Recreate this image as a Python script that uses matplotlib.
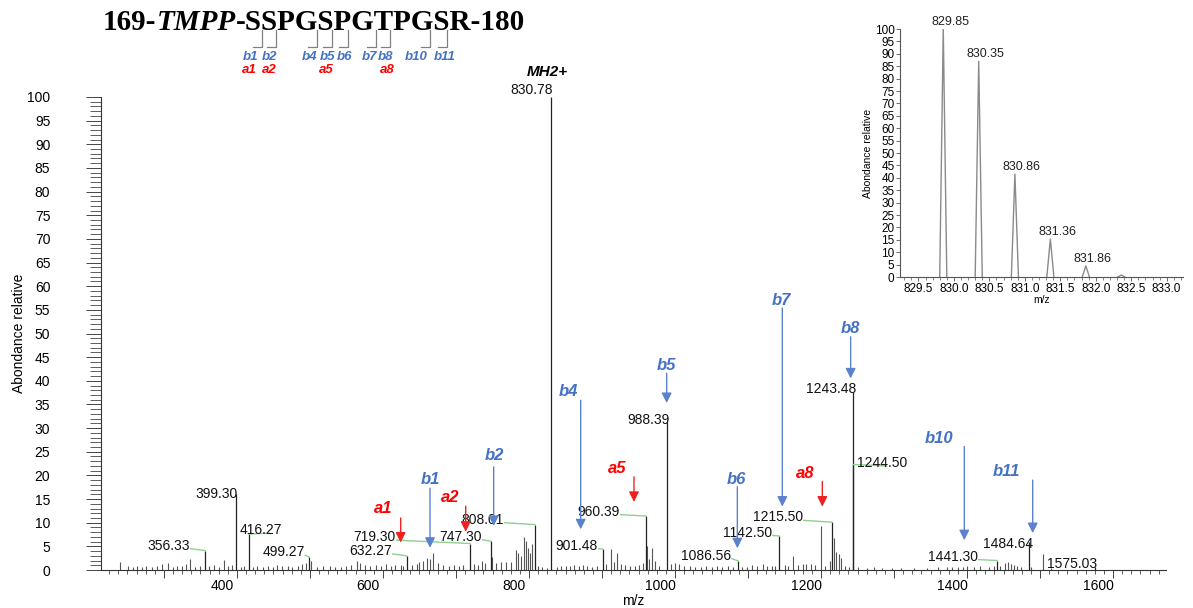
import matplotlib
matplotlib.use("Agg")
import matplotlib.pyplot as plt
import matplotlib.transforms as mtransforms
from matplotlib.ticker import MultipleLocator, FuncFormatter

plt.rcParams['font.family'] = ['Liberation Sans', 'DejaVu Sans']

# labelled peaks (m/z, relative abundance)
peak_labels = ["356.33", "399.30", "416.27", "499.27", "632.27", "719.30", "747.30",
               "808.01", "830.78", "901.48", "960.39", "988.39", "1086.56", "1142.50",
               "1215.50", "1243.48", "1244.50", "1441.30", "1484.64", "1575.03"]
peak_mz = [356.33, 399.30, 416.27, 499.27, 632.27, 719.30, 747.30,
           808.01, 830.78, 901.48, 960.39, 988.39, 1086.56, 1142.50,
           1215.50, 1243.48, 1244.50, 1441.30, 1484.64, 1575.03]
peak_int = [4.1, 16.0, 7.6, 2.7, 3.0, 5.6, 6.1,
            9.6, 100.0, 4.4, 11.4, 31.2, 1.9, 7.2,
            10.1, 37.6, 22.3, 2.0, 6.0, 0.6]

# small unlabelled peaks
noise_mz = [240, 251, 258, 263, 270, 276, 283, 290, 297, 306, 312, 318, 325, 330, 336,
            343, 350, 362, 368, 375, 382, 388, 393, 405, 410, 422, 428, 436, 442, 449,
            455, 462, 470, 476, 483, 489, 495, 502, 510, 518, 527, 534, 542, 549, 556,
            564, 569, 575, 582, 590, 597, 604, 611, 617, 624, 628, 640, 646, 650, 655,
            660, 664, 669, 675, 682, 690, 697, 704, 710, 724, 730, 735, 740, 749, 755,
            762, 768, 775, 782, 785, 789, 793, 796, 799, 801, 804.5, 812, 818, 824, 838,
            844, 850, 856, 862, 868, 874, 880, 886, 893, 905, 912, 916, 920, 926, 932,
            938, 945, 951, 956, 961, 965, 969, 973, 978, 994, 1000, 1006, 1012, 1020, 1028,
            1035, 1043, 1050, 1058, 1065, 1072, 1080, 1092, 1098, 1105, 1112, 1120, 1126, 1133, 1137,
            1150, 1155, 1161, 1168, 1175, 1180, 1186, 1192, 1200, 1205, 1212, 1218, 1221, 1225, 1228,
            1233, 1238, 1250, 1263, 1272, 1283, 1297, 1310, 1328, 1345, 1360, 1372, 1380, 1388, 1394,
            1400, 1410, 1418, 1430, 1437, 1445, 1452, 1456, 1460, 1464, 1468, 1474, 1488, 1504, 1515]
noise_int = [1.6, 0.9, 0.7, 0.9, 0.6, 0.9, 0.7, 0.8, 1.3, 1.4, 0.7, 0.9, 0.8, 1.2, 2.3,
             0.6, 0.8, 0.9, 1.1, 0.7, 2.1, 0.8, 1.0, 0.6, 0.9, 0.7, 0.8, 0.6, 0.9, 0.7,
             1.0, 0.8, 0.9, 0.7, 0.9, 1.2, 1.5, 1.8, 0.7, 0.8, 0.9, 0.6, 0.7, 0.9, 1.1,
             1.8, 1.4, 1.1, 0.8, 1.0, 0.9, 1.2, 0.9, 1.1, 1.0, 0.9, 1.0, 1.3, 1.6, 1.9,
             2.5, 2.3, 3.5, 1.4, 1.0, 0.9, 1.1, 0.8, 1.0, 1.3, 1.0, 1.9, 1.4, 2.7, 1.4,
             1.7, 1.6, 1.7, 4.2, 3.6, 2.9, 7.0, 6.1, 4.7, 3.6, 5.4, 0.8, 0.6, 0.5, 0.6,
             0.8, 0.9, 0.8, 1.1, 0.9, 1.0, 0.9, 0.7, 0.8, 1.2, 4.4, 1.7, 3.5, 1.3, 1.0,
             0.8, 0.9, 1.0, 1.5, 5.1, 2.3, 4.7, 2.0, 0.8, 1.3, 1.5, 1.2, 0.8, 0.9, 0.6,
             0.7, 0.8, 0.7, 0.9, 0.6, 0.8, 0.7, 0.6, 0.7, 1.0, 0.9, 1.2, 0.8, 0.9, 0.8,
             1.1, 0.9, 3.0, 1.0, 1.2, 1.2, 1.3, 1.0, 9.3, 0.8, 2.0, 6.8, 3.7, 3.3, 2.5,
             0.8, 0.6, 0.6, 0.5, 0.6, 0.4, 0.4, 0.4, 0.5, 0.5, 0.6, 0.7, 0.6, 0.6, 0.7,
             0.9, 0.7, 0.8, 0.7, 0.9, 0.8, 1.4, 1.6, 1.3, 1.1, 0.9, 0.7, 0.6, 3.4, 0.5]

# fragment ions pointed by arrows
b_names = ["b1", "b2", "b4", "b5", "b6", "b7", "b8", "b10", "b11"]
b_mz = [664.4, 751.6, 870.8, 988.6, 1085.4, 1147.0, 1240.6, 1396.3, 1490.0]
a_names = ["a1", "a2", "a5", "a8"]
a_mz = [624.2, 713.3, 943.8, 1201.8]

# isotopic cluster of MH2+ (inset)
iso_labels = ["829.85", "830.35", "830.86", "831.36", "831.86", ""]
iso_mz = [829.85, 830.35, 830.86, 831.36, 831.86, 832.36]
iso_int = [100.0, 87.0, 41.5, 15.3, 4.5, 0.8]

# layout of peak labels: (x, y, ha, leader)
label_pos = {
    "356.33": (335.6, 5.1, "right", True),
    "399.30": (401.0, 16.1, "right", False),
    "416.27": (404.0, 8.5, "left", True),
    "499.27": (493.0, 3.7, "right", True),
    "632.27": (612.3, 4.0, "right", True),
    "719.30": (617.8, 6.9, "right", True),
    "747.30": (735.6, 7.0, "right", True),
    "808.01": (765.8, 10.6, "right", True),
    "830.78": (833.0, 101.5, "right", False),
    "901.48": (894.5, 5.1, "right", True),
    "960.39": (924.7, 12.3, "right", True),
    "988.39": (993.0, 31.7, "right", False),
    "1086.56": (1077.0, 3.0, "right", True),
    "1142.50": (1133.0, 7.9, "right", True),
    "1215.50": (1175.0, 11.1, "right", True),
    "1243.48": (1248.0, 38.3, "right", False),
    "1244.50": (1249.3, 22.7, "left", True),
    "1441.30": (1415.0, 2.8, "right", True),
    "1484.64": (1490.4, 5.6, "right", False),
    "1575.03": (1509.6, 1.3, "left", False),
}
# arrows: (top, tip, label_x, label_y)
b_layout = [(17.3, 4.7, 664.4, 19.2), (21.8, 9.3, 752.5, 24.3), (35.9, 8.6, 853.8, 37.7),
            (41.6, 35.3, 988.6, 43.3), (17.6, 4.6, 1084.5, 19.2), (55.4, 13.4, 1146.0, 56.9),
            (49.3, 40.5, 1240.6, 51.0), (26.1, 6.3, 1362.0, 27.8), (19.0, 7.8, 1454.0, 20.8)]
a_layout = [(11.0, 5.8, 600.4, 12.9), (13.5, 8.1, 691.8, 15.3), (19.7, 14.4, 921.0, 21.5),
            (18.7, 13.4, 1179.0, 20.4)]

W, H = 1193, 608
fig = plt.figure(figsize=(W / 100, H / 100), dpi=100)


def px(x, y):
    return x / W, 1 - y / H


blue = "#4472C4"
red = "#FF0000"
green = "#8fd08f"

ax = fig.add_axes([101 / W, (H - 570) / H, 1065 / W, 473 / H])
ax.vlines(noise_mz, 0, noise_int, color="#555555", lw=0.8)
ax.vlines(peak_mz, 0, peak_int, color="#222222", lw=0.9)

for lab, m, h in zip(peak_labels, peak_mz, peak_int):
    x, y, ha, leader = label_pos[lab]
    ax.text(x, y, lab, ha=ha, va="center", fontsize=10, color="#111111", clip_on=False)
    if leader:
        if ha == "right":
            ax.plot([x + 1, m], [y - 0.6, h], color=green, lw=1)
        else:
            ax.plot([m, x + 40], [h, y - 0.7], color=green, lw=1)

ax.text(825, 105.3, "MH2+", ha="center", va="center", fontsize=11,
        fontweight="bold", fontstyle="italic", clip_on=False)

arrow_kw = dict(arrowstyle="-|>,head_length=0.5,head_width=0.25", lw=1,
                shrinkA=0, shrinkB=0, mutation_scale=12)
for name, m, (top, tip, lx, ly) in zip(b_names, b_mz, b_layout):
    ax.annotate("", xy=(m, tip), xytext=(m, top),
                arrowprops=dict(color="#5b82cc", **arrow_kw))
    ax.text(lx, ly, name, ha="center", va="center", color=blue, fontsize=12,
            fontweight="bold", fontstyle="italic")
for name, m, (top, tip, lx, ly) in zip(a_names, a_mz, a_layout):
    ax.annotate("", xy=(m, tip), xytext=(m, top),
                arrowprops=dict(color="#f02020", **arrow_kw))
    ax.text(lx, ly, name, ha="center", va="center", color=red, fontsize=12,
            fontweight="bold", fontstyle="italic")

ax.set_xlim(213.7, 1672.6)
ax.set_ylim(0, 100)
for s in ["top", "right"]:
    ax.spines[s].set_visible(False)
ax.spines["left"].set_color("#333333")
ax.spines["bottom"].set_color("#333333")
ax.spines["left"].set_bounds(0, 100)
ax.yaxis.set_major_locator(MultipleLocator(5))
ax.yaxis.set_minor_locator(MultipleLocator(1))
ax.xaxis.set_major_locator(MultipleLocator(100))
ax.xaxis.set_minor_locator(MultipleLocator(12.5))
ax.xaxis.set_major_formatter(FuncFormatter(lambda v, p: f"{v:.0f}" if v % 200 == 0 else ""))
ax.tick_params(axis="y", which="major", length=10.5, width=0.7, color="#444444",
               labelsize=10, pad=26)
ax.tick_params(axis="y", which="minor", length=7.7, width=0.6, color="#444444")
ax.tick_params(axis="x", which="major", length=5.5, width=0.7, color="#444444",
               labelsize=10, pad=1)
ax.tick_params(axis="x", which="minor", length=3, width=0.6, color="#444444")
ax.set_xlabel("m/z", fontsize=10, labelpad=1)
ax.set_ylabel("Abondance relative", fontsize=10, labelpad=4)
ax.yaxis.set_label_coords(-0.07, 0.5)
ax.set_xticks(range(300, 1700, 100))
offset = mtransforms.ScaledTranslation(-0.15, 0, fig.dpi_scale_trans)
for t in ax.get_xticklabels():
    t.set_transform(t.get_transform() + offset)

# inset: isotopic cluster
ax2 = fig.add_axes([900 / W, (H - 277) / H, 283 / W, 248 / H])
for lab, m, h in zip(iso_labels, iso_mz, iso_int):
    ax2.plot([m - 0.05, m, m + 0.05], [0, h, 0], color="#8a8a8a", lw=1)
    if lab:
        ax2.text(m + 0.1, h + 0.5, lab, ha="center", va="bottom", fontsize=9,
                 color="#222222", clip_on=False)
ax2.set_xlim(829.24, 833.23)
ax2.set_ylim(0, 100)
for s in ["top", "right"]:
    ax2.spines[s].set_visible(False)
ax2.spines["left"].set_color("#555555")
ax2.spines["bottom"].set_color("#555555")
ax2.yaxis.set_major_locator(MultipleLocator(5))
ax2.xaxis.set_major_locator(MultipleLocator(0.5))
ax2.xaxis.set_minor_locator(MultipleLocator(0.1))
ax2.xaxis.set_major_formatter(FuncFormatter(lambda v, p: f"{v:.1f}"))
ax2.tick_params(axis="both", which="major", length=3, width=0.6, color="#555555",
                labelsize=8.5, pad=1)
ax2.tick_params(axis="x", which="minor", length=2, width=0.5, color="#555555")
ax2.set_xlabel("m/z", fontsize=7.5, labelpad=0.5)
ax2.set_ylabel("Abondance relative", fontsize=7.5, labelpad=1)
ax2.patch.set_alpha(0)

# peptide sequence title
renderer = fig.canvas.get_renderer()
x0, y0 = px(103, 30)
pieces = [("169-", "normal"), ("TMPP", "italic"), ("-SSPGSPGTPGSR-180", "normal")]
for txt, style in pieces:
    t = fig.text(x0, y0, txt, fontfamily="Liberation Serif", fontweight="bold",
                 fontstyle=style, fontsize=21, va="baseline", ha="left")
    bb = t.get_window_extent(renderer)
    x0 = bb.x1 / W

# cleavage brackets under the sequence
cut_x = [261.7, 275.7, 316.7, 332.3, 348.3, 375.7, 390.0, 430.0, 446.7]
for cx in cut_x:
    fig.lines.append(plt.Line2D([cx / W, cx / W, (cx - 9) / W],
                                [1 - 30 / H, 1 - 47 / H, 1 - 47 / H],
                                transform=fig.transFigure, color="#808080", lw=0.9))
top_b = [("b1", 251), ("b2", 270), ("b4", 310), ("b5", 327.3), ("b6", 345),
         ("b7", 369.3), ("b8", 386), ("b10", 416), ("b11", 444.3)]
top_a = [("a1", 249.3), ("a2", 269), ("a5", 326.7), ("a8", 387.7)]
for name, x in top_b:
    fig.text(*px(x, 57), name, ha="center", va="center", color=blue, fontsize=9.5,
             fontweight="bold", fontstyle="italic")
for name, x in top_a:
    fig.text(*px(x, 70), name, ha="center", va="center", color=red, fontsize=9.5,
             fontweight="bold", fontstyle="italic")

fig.savefig("out.png", dpi=100)
